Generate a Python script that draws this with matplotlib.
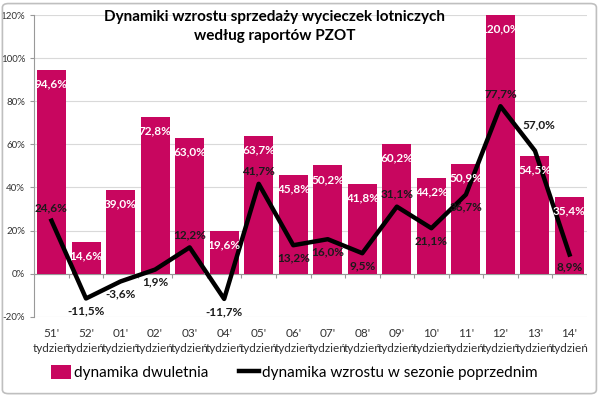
import matplotlib.pyplot as plt
from matplotlib.patches import FancyBboxPatch
import numpy as np

plt.rcParams['font.family'] = ['Lato', 'DejaVu Sans']

tygodnie = ["51'", "52'", "01'", "02'", "03'", "04'", "05'", "06'",
            "07'", "08'", "09'", "10'", "11'", "12'", "13'", "14'"]
dwuletnia = [94.6, 14.6, 39.0, 72.8, 63.0, 19.6, 63.7, 45.8,
             50.2, 41.8, 60.2, 44.2, 50.9, 120.0, 54.5, 35.4]
poprzedni = [24.6, -11.5, -3.6, 1.9, 12.2, -11.7, 41.7, 13.2,
             16.0, 9.5, 31.1, 21.1, 36.7, 77.7, 57.0, 8.9]
# gdzie wstawic etykiete linii: 1 nad punktem, -1 pod punktem
pozycja = [1, -1, -1, -1, 1, -1, 1, -1, -1, -1, 1, -1, -1, 1, 1, -1]

kolor = "#C8065F"

fig = plt.figure(figsize=(6, 3.96), dpi=100)
ax = fig.add_axes([0.057, 0.2, 0.921, 0.762])

x = np.arange(len(tygodnie))
slupki = ax.bar(x, dwuletnia, width=0.84, color=kolor, zorder=2, label="dynamika dwuletnia")
linia, = ax.plot(x, poprzedni, color="black", lw=3.2, zorder=3,
                 label="dynamika wzrostu w sezonie poprzednim")

for i, v in enumerate(dwuletnia):
    ax.annotate(f"{v:.1f}%".replace(".", ","), (x[i], v), xytext=(0, -10),
                textcoords="offset points", ha="center", va="center",
                color="white", fontsize=8.5, fontweight="bold", zorder=4)

for i, v in enumerate(poprzedni):
    ax.annotate(f"{v:.1f}%".replace(".", ","), (x[i], v),
                xytext=(3 if i == 14 else 0, 9 * pozycja[i] + (10 if i == 14 else 0)),
                textcoords="offset points", ha="center", va="center",
                color="#1a1a1a", fontsize=8.5, fontweight="bold", zorder=5)

ax.set_xlim(-0.5, len(tygodnie) - 0.5)
ax.set_ylim(-20, 120)
ax.set_yticks(np.arange(-20, 121, 20))
ax.set_yticklabels([f"{t}%" for t in range(-20, 121, 20)], fontsize=7, color="#333333")
ax.yaxis.grid(True, color="#d9d9d9", lw=0.8, zorder=0)
ax.set_axisbelow(True)

ax.set_xticks(x)
ax.set_xticklabels([t + "\ntydzień" for t in tygodnie], fontsize=8.5, color="#333333",
                   linespacing=1.5)
ax.tick_params(axis="x", length=0, pad=8)
ax.tick_params(axis="y", length=3, color="#999999")

for s in ["top", "right", "bottom"]:
    ax.spines[s].set_visible(False)
ax.spines["left"].set_color("#999999")

# os zero z kreskami miedzy kategoriami
ax.axhline(0, color="#999999", lw=0.8, zorder=1)
ax.vlines(np.arange(len(tygodnie) + 1) - 0.5, -2, 0, color="#999999", lw=0.8, zorder=1)

fig.text(0.458, 0.975, "Dynamiki wzrostu sprzedaży wycieczek lotniczych\nwedług raportów PZOT",
         ha="center", va="top", fontsize=11, fontweight="bold", linespacing=1.45)

fig.legend([slupki, linia], ["dynamika dwuletnia", "dynamika wzrostu w sezonie poprzednim"],
           loc="lower center", bbox_to_anchor=(0.49, 0.005), ncol=2, frameon=False,
           fontsize=11, handlelength=1.3, handleheight=1.0, columnspacing=2.0,
           handletextpad=0.2)

ramka = FancyBboxPatch((0.004, 0.006), 0.99, 0.985, boxstyle="round,pad=0,rounding_size=0.01",
                       transform=fig.transFigure, fill=False, ec="#bfbfbf", lw=1.2)
fig.patches.append(ramka)

fig.savefig("out.png", dpi=100)
